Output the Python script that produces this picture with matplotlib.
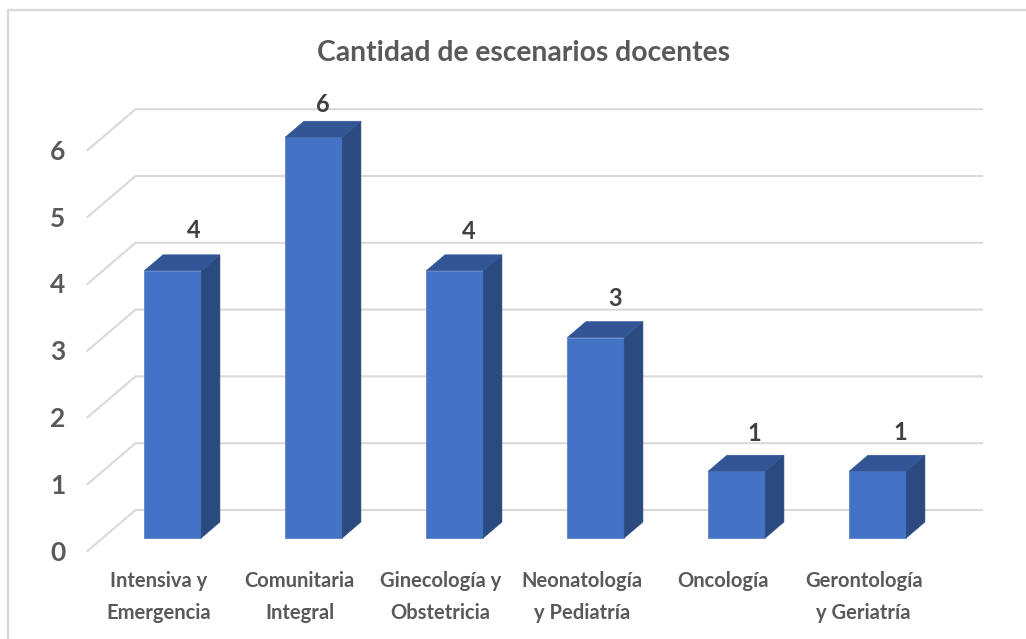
import matplotlib
matplotlib.use("Agg")
from matplotlib import pyplot as plt
from matplotlib.patches import Polygon

categories = ["Intensiva y\nEmergencia", "Comunitaria\nIntegral", "Ginecología y\nObstetricia",
              "Neonatología\ny Pediatría", "Oncología", "Gerontología\ny Geriatría"]
values = [4, 6, 4, 3, 1, 1]
y_ticks = [0, 1, 2, 3, 4, 5, 6]

# hand placed label nudges, pixels
label_dx = [21, 9, 14, 19, 18, 23]
label_dy = [24, 17, 23, 23, 22, 23]

W, H = 1026, 639
X0, DX = 157.5, 141.0   # pixel of category 0 on the front floor, pixels per category
Y0, DY = 551.0, 66.8    # pixel of value 0 on the front floor, pixels per unit
DEPTH_X, DEPTH_Y = 48.0, 41.0
BAR_W = 57 / DX
BAR_FRONT, BAR_BACK = 0.317, 0.707
GREY = "#595959"


def at(x, v, depth=0.0):
    return x + depth * DEPTH_X / DX, v + depth * DEPTH_Y / DY


plt.rcParams["font.family"] = ["Lato", "DejaVu Sans"]
fig = plt.figure(figsize=(W / 100, H / 100), dpi=100)
ax = fig.add_axes([0, 0, 1, 1])
ax.set_xlim(-X0 / DX, (W - X0) / DX)
ax.set_ylim((Y0 - H) / DY, Y0 / DY)
ax.axis("off")

# chart frame, only left and top show in the crop
frame_x = (8 - X0) / DX
frame_y = (Y0 - 10) / DY
ax.plot([frame_x, frame_x, (W - X0) / DX], [(Y0 - H) / DY, frame_y, frame_y], color="#d9d9d9", lw=1.6)

# grid on the floor edge and back wall
right_end = (982 - X0 - DEPTH_X) / DX
for v in y_ticks:
    xa, ya = at(-70 / DX, v)
    xb, yb = at(-70 / DX, v, 1.0)
    xc, yc = at(right_end, v, 1.0)
    ax.plot([xa, xb, xc], [ya, yb, yc], color="#d9d9d9", lw=1.5, zorder=1, solid_joinstyle="miter")
    ax.text(*at(-99.5 / DX, v - 0.025), str(v), color=GREY, fontsize=19, fontweight="bold",
            ha="center", va="center")

for i, v in enumerate(values):
    left, right = i - BAR_W / 2, i + BAR_W / 2
    ax.add_patch(Polygon([at(left, 0, BAR_FRONT), at(right, 0, BAR_FRONT),
                          at(right, v, BAR_FRONT), at(left, v, BAR_FRONT)],
                         facecolor="#4472c4", edgecolor="#5b84cc", lw=0.6, zorder=3))
    ax.add_patch(Polygon([at(right, 0, BAR_FRONT), at(right, 0, BAR_BACK),
                          at(right, v, BAR_BACK), at(right, v, BAR_FRONT)],
                         facecolor="#2a4a80", edgecolor="#2a4a80", lw=0.4, zorder=3))
    ax.add_patch(Polygon([at(left, v, BAR_FRONT), at(right, v, BAR_FRONT),
                          at(right, v, BAR_BACK), at(left, v, BAR_BACK)],
                         facecolor="#325596", edgecolor="#325596", lw=0.4, zorder=3))
    xl = at(i, v, BAR_FRONT)[0]
    yl = at(i, v, BAR_BACK)[1]
    ax.annotate(str(v), (xl, yl), xytext=(label_dx[i] * 0.72, label_dy[i] * 0.72),
                textcoords="offset points", color="#404040",
                fontsize=17, fontweight="bold", ha="center", va="center", zorder=4)
    ax.text(i + 0.008, (Y0 - 571) / DY, categories[i], color=GREY, fontsize=14.5,
            fontweight="bold", ha="center", va="top", linespacing=1.75, zorder=4)

ax.text((523.5 - X0) / DX, (Y0 - 53) / DY, "Cantidad de escenarios docentes", color=GREY,
        fontsize=20.3, fontweight="bold", ha="center", va="center")

fig.savefig("out.png", dpi=100)
